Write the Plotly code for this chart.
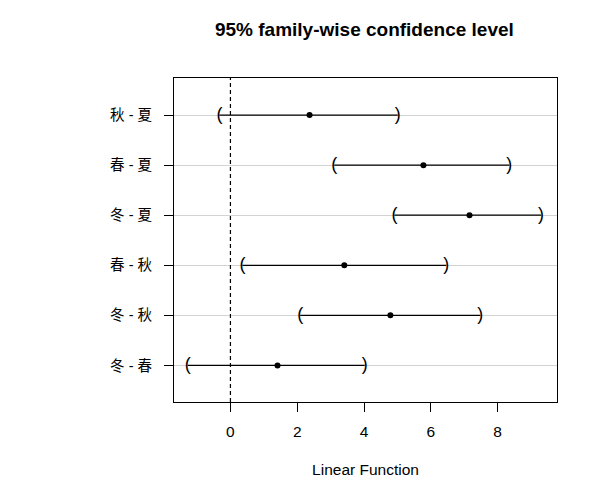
import plotly.graph_objects as go

# pairwise comparisons, top to bottom
comparisons = ['秋 - 夏', '春 - 夏', '冬 - 夏', '春 - 秋', '冬 - 秋', '冬 - 春']
estimate = [2.37, 5.78, 7.16, 3.41, 4.79, 1.41]
lower = [-0.33, 3.11, 4.91, 0.36, 2.09, -1.28]
upper = [5.01, 8.35, 9.30, 6.46, 7.48, 4.02]

FONT = 'Liberation Sans, Arial, Noto Sans CJK SC, sans-serif'

fig = go.Figure()

# interval segments
for name, lo, hi in zip(comparisons, lower, upper):
    fig.add_trace(go.Scatter(
        x=[lo, hi], y=[name, name], mode='lines',
        line=dict(color='black', width=1.2),
        showlegend=False, hoverinfo='skip'
    ))

# ends drawn as parentheses
fig.add_trace(go.Scatter(
    x=lower, y=comparisons, mode='text', text=['('] * len(lower),
    textposition='middle center', textfont=dict(size=18, color='black', family=FONT),
    showlegend=False, hoverinfo='skip'
))
fig.add_trace(go.Scatter(
    x=upper, y=comparisons, mode='text', text=[')'] * len(upper),
    textposition='middle center', textfont=dict(size=18, color='black', family=FONT),
    showlegend=False, hoverinfo='skip'
))

# point estimates
fig.add_trace(go.Scatter(
    x=estimate, y=comparisons, mode='markers',
    marker=dict(color='black', size=6),
    showlegend=False,
    hovertemplate='%{y}: %{x}<extra></extra>'
))

fig.add_vline(x=0, line=dict(color='black', width=1.2, dash='4px,3px'))

fig.update_layout(
    width=597, height=500,
    margin=dict(l=166, r=48, t=70, b=106),
    paper_bgcolor='white', plot_bgcolor='white',
    font=dict(family=FONT, size=15.5, color='black'),
    title=dict(text='<b>95% family-wise confidence level</b>', x=0.597, xanchor='center',
               y=0.958, yanchor='middle', font=dict(size=19)),
)

fig.update_xaxes(
    range=[-1.69, 9.78], tickvals=[0, 2, 4, 6, 8],
    showgrid=False, zeroline=False,
    showline=True, mirror=True, linecolor='black', linewidth=1.2,
    ticks='outside', ticklen=9, tickcolor='black', ticklabelstandoff=6,
    title=dict(text='Linear Function', standoff=25, font=dict(size=15.5)),
)
fig.update_yaxes(
    type='category', categoryorder='array', categoryarray=comparisons,
    range=[5.73, -0.74],
    showgrid=True, gridcolor='#d3d3d3', gridwidth=1,
    zeroline=False,
    showline=True, mirror=True, linecolor='black', linewidth=1.2,
    ticks='outside', ticklen=9, tickcolor='black', ticklabelstandoff=9,
    tickfont=dict(size=14.5),
)

fig.write_html("out.html")
